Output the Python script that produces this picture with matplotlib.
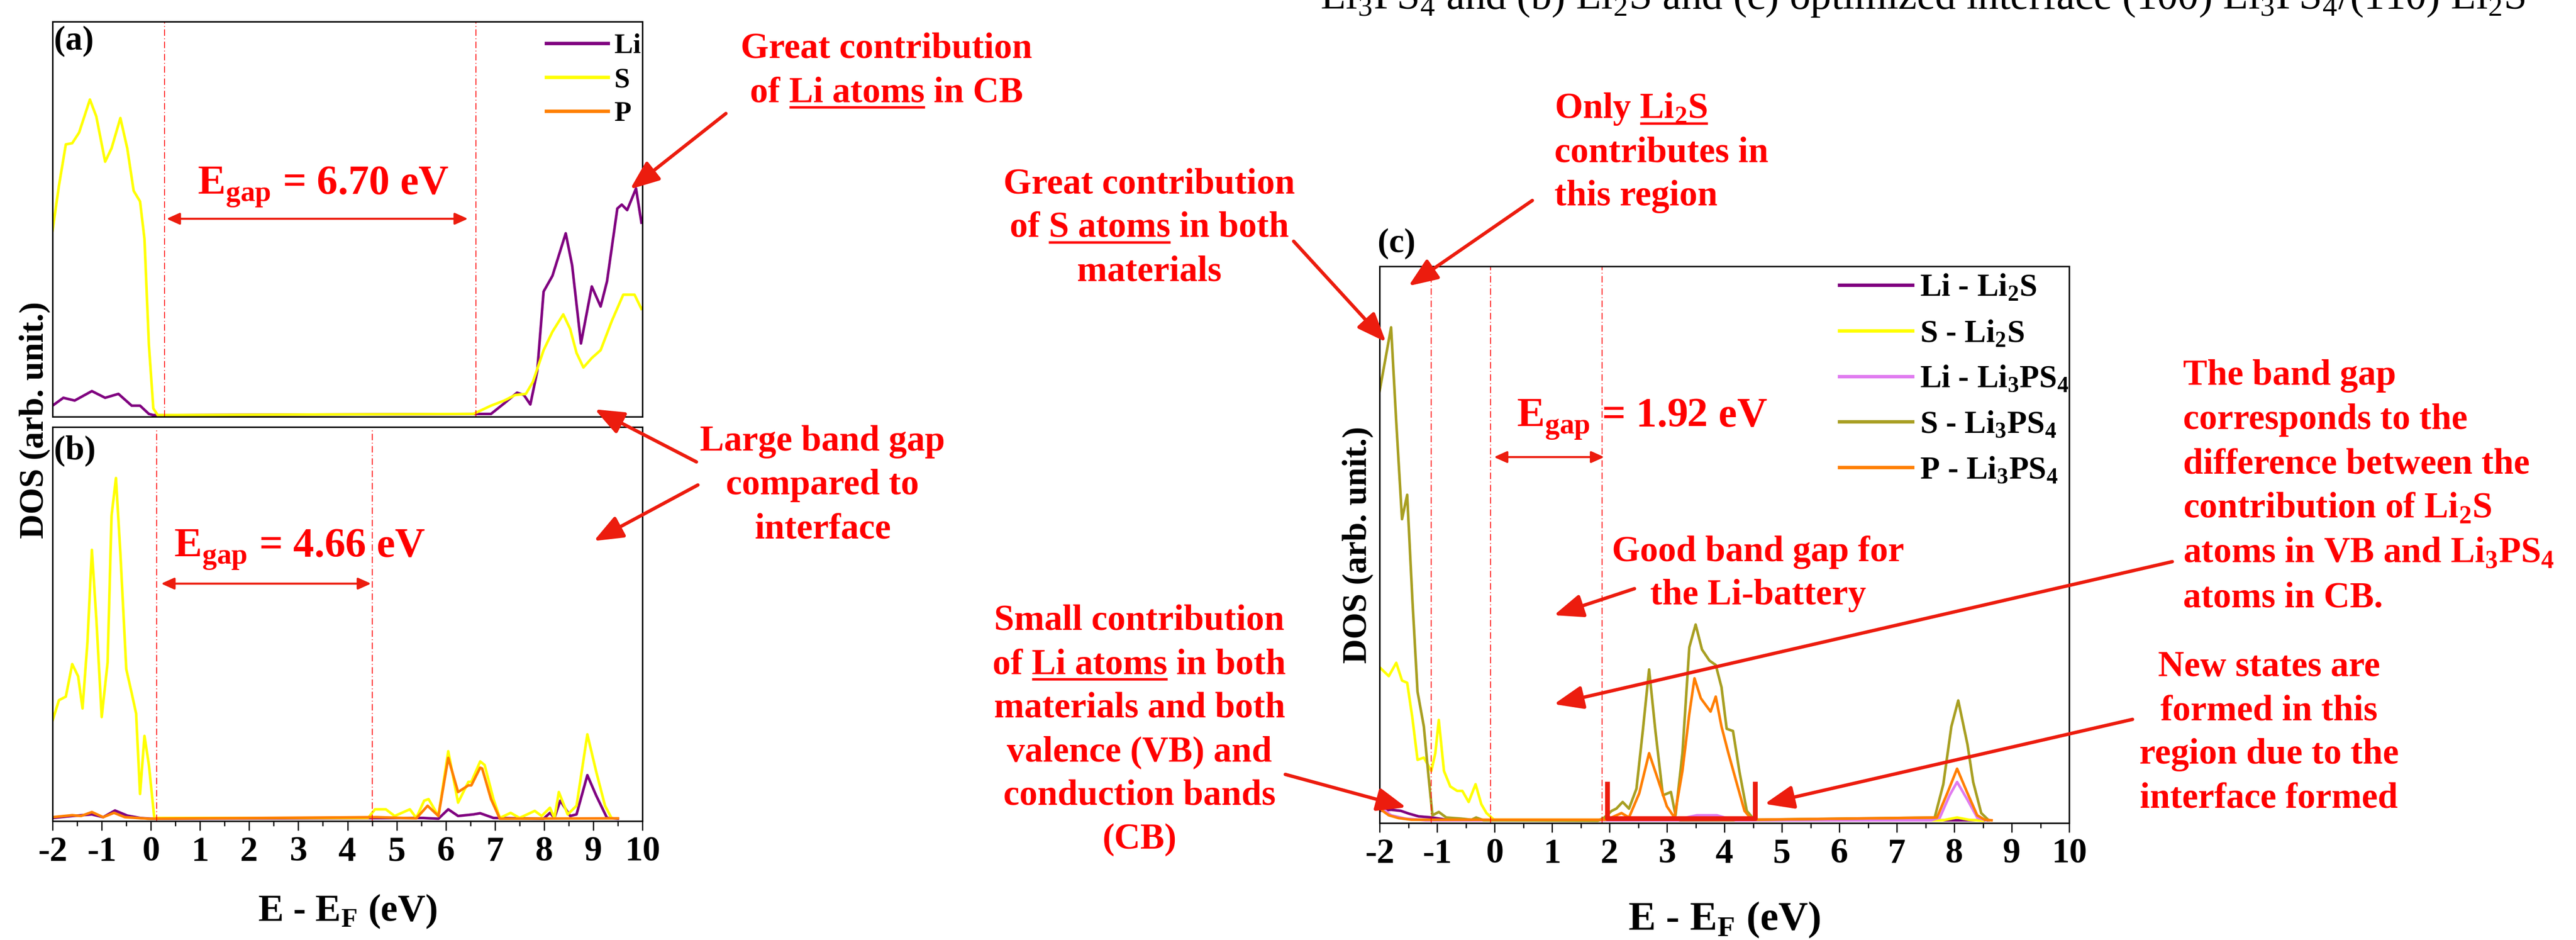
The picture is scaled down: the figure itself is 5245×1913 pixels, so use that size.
import numpy as np
import matplotlib.pyplot as plt

plt.rcParams['font.family'] = ['Liberation Serif', 'DejaVu Serif']
plt.rcParams['font.weight'] = 'bold'
plt.rcParams['mathtext.fontset'] = 'custom'
plt.rcParams['mathtext.rm'] = 'Liberation Serif:bold'
plt.rcParams['mathtext.bf'] = 'Liberation Serif:bold'
plt.rcParams['axes.unicode_minus'] = False

# ---- data (x = E - EF in eV, y = DOS as fraction of panel height)
a_li = [(-2, 0.024), (-1.78, 0.044), (-1.55, 0.037), (-1.20, 0.061), (-0.93, 0.044), (-0.66, 0.054),
        (-0.39, 0.024), (-0.22, 0.024), (-0.04, 0.003), (0.05, 0.0), (6.92, 0.003), (7.19, 0.030),
        (7.45, 0.057), (7.59, 0.051), (7.72, 0.027), (7.86, 0.111), (7.99, 0.314), (8.17, 0.354),
        (8.44, 0.462), (8.57, 0.381), (8.75, 0.182), (8.97, 0.327), (9.15, 0.276), (9.28, 0.340),
        (9.49, 0.525), (9.58, 0.535), (9.69, 0.521), (9.87, 0.576), (9.98, 0.489)]
a_s = [(-2, 0.469), (-1.87, 0.583), (-1.73, 0.688), (-1.60, 0.691), (-1.46, 0.718), (-1.24, 0.802),
       (-1.11, 0.759), (-0.93, 0.644), (-0.80, 0.678), (-0.62, 0.755), (-0.48, 0.678), (-0.35, 0.570),
       (-0.22, 0.543), (-0.13, 0.448), (-0.04, 0.179), (0.05, 0.017), (0.14, 0.0), (6.56, 0.003),
       (6.92, 0.024), (7.19, 0.037), (7.41, 0.051), (7.63, 0.054), (7.77, 0.084), (7.99, 0.165),
       (8.17, 0.212), (8.39, 0.256), (8.53, 0.219), (8.66, 0.158), (8.80, 0.121), (8.97, 0.145),
       (9.15, 0.165), (9.38, 0.240), (9.61, 0.306), (9.84, 0.306), (9.98, 0.270)]
a_p = []

b_li = [(-2, 0.004), (-1.6, 0.009), (-1.2, 0.013), (-0.97, 0.006), (-0.73, 0.023), (-0.48, 0.010),
        (-0.22, 0.004), (0.0, 0.002), (5.54, 0.004), (5.85, 0.002), (6.05, 0.026), (6.25, 0.009),
        (6.56, 0.013), (6.70, 0.016), (6.97, 0.004), (7.99, 0.002), (8.12, 0.017), (8.21, 0.004),
        (8.33, 0.048), (8.53, 0.009), (8.66, 0.013), (8.88, 0.113), (9.06, 0.061), (9.28, 0.004),
        (9.5, 0.002)]
b_s = [(-2, 0.252), (-1.87, 0.304), (-1.73, 0.313), (-1.60, 0.396), (-1.48, 0.365), (-1.39, 0.283),
       (-1.29, 0.452), (-1.20, 0.687), (-1.11, 0.513), (-1.00, 0.261), (-0.88, 0.400), (-0.80, 0.774),
       (-0.71, 0.870), (-0.62, 0.678), (-0.50, 0.383), (-0.39, 0.322), (-0.30, 0.270), (-0.22, 0.065),
       (-0.13, 0.213), (-0.04, 0.139), (0.07, 0.004), (4.42, 0.004), (4.56, 0.026), (4.78, 0.026),
       (4.96, 0.009), (5.27, 0.026), (5.40, 0.004), (5.56, 0.048), (5.65, 0.052), (5.85, 0.009),
       (6.05, 0.174), (6.25, 0.043), (6.46, 0.096), (6.52, 0.096), (6.70, 0.148), (6.79, 0.139),
       (6.97, 0.052), (7.10, 0.004), (7.32, 0.017), (7.50, 0.004), (7.81, 0.022), (7.95, 0.009),
       (8.12, 0.030), (8.21, 0.004), (8.30, 0.070), (8.48, 0.013), (8.66, 0.035), (8.88, 0.217),
       (9.06, 0.122), (9.24, 0.035), (9.37, 0.004)]
b_p = [(-2, 0.006), (-1.6, 0.011), (-1.42, 0.009), (-1.2, 0.019), (-0.97, 0.006), (-0.75, 0.017),
       (-0.53, 0.006), (-0.04, 0.002), (4.6, 0.006), (5.4, 0.003), (5.63, 0.035), (5.85, 0.009),
       (6.05, 0.157), (6.25, 0.070), (6.46, 0.087), (6.52, 0.087), (6.70, 0.132), (6.74, 0.130),
       (6.92, 0.052), (7.10, 0.002), (9.5, 0.003)]

c_li_li2s = [(-2, 0.018), (-1.80, 0.020), (-1.63, 0.018), (-1.49, 0.013), (-1.32, 0.008),
             (-1.08, 0.006), (-0.84, 0.002), (-0.3, 0.001), (8.6, 0.001)]
c_s_li2s = [(-2, 0.277), (-1.84, 0.261), (-1.71, 0.285), (-1.61, 0.253), (-1.52, 0.249), (-1.43, 0.186),
            (-1.34, 0.110), (-1.23, 0.114), (-1.10, 0.090), (-1.03, 0.122), (-0.97, 0.182), (-0.88, 0.090),
            (-0.77, 0.062), (-0.65, 0.054), (-0.56, 0.054), (-0.45, 0.034), (-0.33, 0.066), (-0.23, 0.030),
            (-0.14, 0.014), (-0.01, 0.002), (7.8, 0.001), (7.95, 0.004), (8.05, 0.006), (8.25, 0.002),
            (8.5, 0.0)]
c_li_lps = [(-2, 0.026), (-1.80, 0.010), (-1.55, 0.004), (-1.2, 0.001), (3.2, 0.001), (3.34, 0.006),
            (3.52, 0.010), (3.87, 0.010), (4.04, 0.005), (4.2, 0.001), (7.6, 0.001), (7.75, 0.006),
            (7.92, 0.046), (8.05, 0.070), (8.23, 0.038), (8.40, 0.006), (8.55, 0.001)]
c_s_lps = [(-2, 0.775), (-1.89, 0.838), (-1.80, 0.890), (-1.71, 0.719), (-1.61, 0.544), (-1.52, 0.588),
           (-1.43, 0.400), (-1.34, 0.233), (-1.23, 0.170), (-1.15, 0.082), (-1.08, 0.010), (-0.97, 0.016),
           (-0.84, 0.006), (-0.58, 0.004), (-0.40, 0.002), (-0.32, 0.006), (-0.19, 0.001), (1.80, 0.0),
           (1.91, 0.006), (2.04, 0.018), (2.12, 0.022), (2.23, 0.034), (2.34, 0.022), (2.47, 0.058),
           (2.58, 0.162), (2.69, 0.273), (2.80, 0.162), (2.93, 0.046), (3.07, 0.052), (3.15, 0.010),
           (3.27, 0.122), (3.39, 0.313), (3.50, 0.354), (3.61, 0.309), (3.74, 0.289), (3.85, 0.281),
           (3.95, 0.241), (4.04, 0.166), (4.15, 0.162), (4.26, 0.090), (4.39, 0.018), (4.52, 0.002),
           (7.66, 0.006), (7.81, 0.066), (7.95, 0.170), (8.07, 0.217), (8.23, 0.138), (8.33, 0.070),
           (8.47, 0.014), (8.59, 0.002)]
c_p_lps = [(-2, 0.022), (-1.84, 0.010), (-1.67, 0.005), (-1.45, 0.002), (1.95, 0.002), (2.21, 0.014),
           (2.34, 0.006), (2.52, 0.050), (2.69, 0.122), (2.82, 0.082), (3.00, 0.026), (3.13, 0.006),
           (3.27, 0.090), (3.39, 0.193), (3.48, 0.257), (3.59, 0.221), (3.76, 0.197), (3.85, 0.224),
           (3.95, 0.170), (4.07, 0.122), (4.22, 0.066), (4.35, 0.018), (4.48, 0.002), (7.70, 0.006),
           (7.88, 0.050), (8.05, 0.094), (8.23, 0.050), (8.40, 0.010), (8.53, 0.002), (8.65, 0.001)]

# band edges (dash-dot lines) and gap arrows
edges_a = [0.28, 6.61]
edges_b = [0.12, 4.50]
edges_c = [-1.10, -0.07, 1.87]
gap_a = (0.32, 6.45, 0.499)
gap_b = (0.21, 4.48, 0.601)
gap_c = (-0.01, 1.91, 0.656)
bracket_c = (1.97, 4.54, 0.07)

labels_ab = ['Li', 'S', 'P']
labels_c = [r'Li - Li$_{\mathregular{2}}$S', r'S - Li$_{\mathregular{2}}$S',
            r'Li - Li$_{\mathregular{3}}$PS$_{\mathregular{4}}$',
            r'S - Li$_{\mathregular{3}}$PS$_{\mathregular{4}}$',
            r'P - Li$_{\mathregular{3}}$PS$_{\mathregular{4}}$']
colors_ab = ['#800080', '#FFFF00', '#FF8000']
colors_c = ['#800080', '#FFFF00', '#E07BF0', '#A89F22', '#FF7F00']

RED = '#FF0000'
ARROW = '#EC1C0E'
W, H = 5245, 1913

fig = plt.figure(figsize=(W / 100, H / 100), dpi=100)


def box(l, t, r, b):
    return [l / W, 1 - b / H, (r - l) / W, (b - t) / H]


ax_a = fig.add_axes(box(107, 44, 1308, 848))
ax_b = fig.add_axes(box(107, 869, 1308, 1671))
ax_c = fig.add_axes(box(2809, 542, 4213, 1675))


def curve(ax, pts, color, label=None):
    pts = np.array(pts) if len(pts) else np.zeros((0, 2))
    ax.plot(pts[:, 0], pts[:, 1], color=color, lw=3.8, label=label)


for ax in (ax_a, ax_b, ax_c):
    ax.set_xlim(-2, 10)
    ax.set_ylim(-0.004, 1)
    ax.set_yticks([])
    for s in ax.spines.values():
        s.set_linewidth(2.2)
    ax.set_xticks(range(-2, 11))
    ax.set_xticks(np.arange(-1.5, 10, 1), minor=True)
    ax.tick_params(axis='x', which='major', direction='out', length=14, width=1.8,
                   labelsize=52, pad=8)
    ax.tick_params(axis='x', which='minor', direction='out', length=7, width=1.8)
ax_a.tick_params(axis='x', which='both', bottom=False, labelbottom=False)

for pts, col, lab in zip([a_li, a_s, a_p], colors_ab, labels_ab):
    curve(ax_a, pts, col, lab)
for pts, col in zip([b_li, b_s, b_p], colors_ab):
    curve(ax_b, pts, col)
for pts, col, lab in zip([c_li_li2s, c_s_li2s, c_li_lps, c_s_lps, c_p_lps], colors_c, labels_c):
    curve(ax_c, pts, col, lab)

for ax, edges, gap in ((ax_a, edges_a, gap_a), (ax_b, edges_b, gap_b), (ax_c, edges_c, gap_c)):
    for e in edges:
        ax.axvline(e, color=RED, lw=1.2, ls=(0, (8, 3, 1, 3)))
    ax.annotate('', xy=(gap[1], gap[2]), xytext=(gap[0], gap[2]),
                arrowprops=dict(arrowstyle='<|-|>,head_length=1.0,head_width=0.45', color=ARROW,
                                lw=3, mutation_scale=16, shrinkA=0, shrinkB=0))

bx0, bx1, btop = bracket_c
ax_c.plot([bx0, bx0, bx1, bx1], [btop, 0.004, 0.004, btop], color=ARROW, lw=7,
          solid_joinstyle='round', solid_capstyle='butt', clip_on=False, zorder=5)

leg_a = ax_a.legend(loc='upper left', bbox_to_anchor=(0.837, 0.97), frameon=False, borderpad=0,
                    borderaxespad=0, handlelength=2.2, handletextpad=0.23, labelspacing=0.3,
                    prop={'weight': 'bold', 'size': 41})
leg_c = ax_c.legend(loc='upper left', bbox_to_anchor=(0.667, 0.988), frameon=False, borderpad=0,
                    borderaxespad=0, handlelength=2.28, handletextpad=0.23, labelspacing=0.5,
                    prop={'weight': 'bold', 'size': 47})
for leg in (leg_a, leg_c):
    for ln in leg.get_lines():
        ln.set_linewidth(5)

xlab = r'E - E$_{\mathregular{F}}$ (eV)'
ax_b.set_xlabel(xlab, fontsize=56, fontweight='bold')
ax_b.xaxis.set_label_coords(0.5, -0.183)
ax_c.set_xlabel(xlab, fontsize=60, fontweight='bold')
ax_c.xaxis.set_label_coords(0.5, -0.139)
ax_c.set_ylabel('DOS (arb. unit.)', fontsize=50, fontweight='bold')
ax_c.yaxis.set_label_coords(-0.009, 0.5)

# ---- overlay in pixel coordinates for annotations
ov = fig.add_axes([0, 0, 1, 1], zorder=10)
ov.set_xlim(0, W)
ov.set_ylim(H, 0)
ov.axis('off')
renderer = fig.canvas.get_renderer()

ov.text(70, 855, 'DOS (arb. unit.)', rotation=90, ha='center', va='center', fontsize=50)
ov.text(110, 52, '(a)', ha='left', va='top', fontsize=50)
ov.text(110, 885, '(b)', ha='left', va='top', fontsize=50)
ov.text(2805, 464, '(c)', ha='left', va='top', fontsize=50)

ov.text(2688, 18, r'Li$_{\mathregular{3}}$PS$_{\mathregular{4}}$ and (b) Li$_{\mathregular{2}}$S and (c) '
        r'optimized interface (100) Li$_{\mathregular{3}}$PS$_{\mathregular{4}}$/(110) Li$_{\mathregular{2}}$S',
        ha='left', va='baseline', fontsize=61, fontweight='normal', color='black')

gap_texts = [(658, 396, '6.70'), (610, 1134, '4.66'), (3343, 869, '1.92')]
for gx, gy, val in gap_texts:
    ov.text(gx, gy, r'E$_{\mathregular{gap}}$ = ' + val + ' eV', ha='center', va='baseline',
            fontsize=61, color=RED)


def width(s, size):
    t = ov.text(0, 0, s, fontsize=size)
    w = t.get_window_extent(renderer).width
    t.remove()
    return w


def note(x, y, segs, ha='center', size=53):
    full = ''.join(s for s, u in segs)
    t = ov.text(x, y, full, ha=ha, va='baseline', fontsize=size, color=RED)
    left = t.get_window_extent(renderer).x0
    done = ''
    for s, u in segs:
        if u:
            x0 = left + (width(done + 'I', size) - width('I', size) if done else 0)
            x1 = x0 + width(s, size)
            ov.plot([x0, x1], [y + 11, y + 11], color=RED, lw=3.6, solid_capstyle='butt')
        done += s


def block(x, y0, lines, ha='center', step=89):
    for i, segs in enumerate(lines):
        note(x, y0 + i * step, segs, ha=ha)


block(1805, 117, [[('Great contribution', False)],
                  [('of ', False), ('Li atoms', True), (' in CB', False)]], step=90)
block(1675, 917, [[('Large band gap', False)], [('compared to', False)], [('interface', False)]])
block(2340, 393, [[('Great contribution', False)],
                  [('of ', False), ('S atoms', True), (' in both', False)],
                  [('materials', False)]])
block(3165, 240, [[('Only ', False), (r'Li$_{\mathregular{2}}$S', True)],
                  [('contributes in', False)], [('this region', False)]], ha='left')
block(2320, 1282, [[('Small contribution', False)],
                   [('of ', False), ('Li atoms', True), (' in both', False)],
                   [('materials and both', False)], [('valence (VB) and', False)],
                   [('conduction bands', False)], [('(CB)', False)]])
block(3580, 1142, [[('Good band gap for', False)], [('the Li-battery', False)]], step=88)
block(4445, 783, [[('The band gap', False)], [('corresponds to the', False)],
                  [('difference between the', False)],
                  [(r'contribution of Li$_{\mathregular{2}}$S', False)],
                  [(r'atoms in VB and Li$_{\mathregular{3}}$PS$_{\mathregular{4}}$', False)],
                  [('atoms in CB.', False)]], ha='left', step=90.4)
block(4620, 1376, [[('New states are', False)], [('formed in this', False)],
                   [('region due to the', False)], [('interface formed', False)]])

arrows = [((1478, 231), (1283, 385)), ((1418, 940), (1211, 833)), ((1421, 987), (1209, 1101)),
          ((2634, 491), (2822, 696)), ((3120, 408), (2868, 582)), ((2617, 1576), (2863, 1643)),
          ((3328, 1198), (3164, 1252)), ((4423, 1143), (3164, 1433)), ((4342, 1464), (3593, 1636))]
for start, tip in arrows:
    ov.annotate('', xy=tip, xytext=start,
                arrowprops=dict(arrowstyle='-|>,head_length=1.0,head_width=0.4', color=ARROW,
                                lw=5, mutation_scale=36, shrinkA=0, shrinkB=0))

fig.savefig('out.png', dpi=100)
